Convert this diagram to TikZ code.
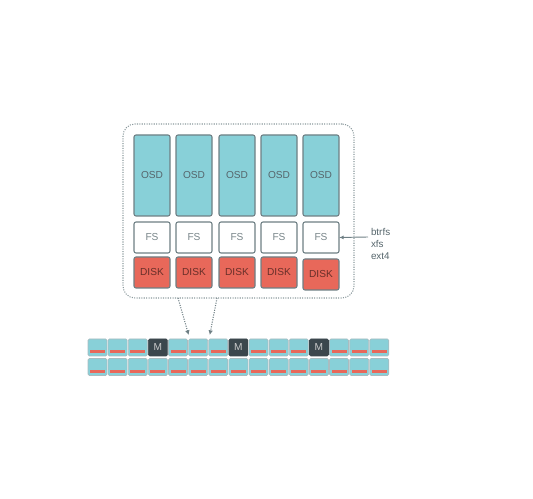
\documentclass[tikz,border=0pt]{standalone}
\usepackage{fontspec}
\setmainfont{Liberation Sans}
\usetikzlibrary{arrows.meta}
\definecolor{osdc}{HTML}{88D0D8}
\definecolor{bordc}{HTML}{6E7F84}
\definecolor{diskc}{HTML}{E8685A}
\definecolor{txtc}{HTML}{56666C}
\definecolor{mc}{HTML}{3B474D}
\definecolor{cellb}{HTML}{A9BCC0}
\begin{document}
\begin{tikzpicture}[x=0.75pt,y=-0.75pt,
  every node/.style={inner sep=0pt,outer sep=0pt,font=\fontsize{7.6}{9}\selectfont,text=txtc},
  box/.style={draw=bordc,line width=0.8pt,rounded corners=1.5pt,anchor=north west,minimum width=27pt},
  osdbox/.style={box,fill=osdc,minimum height=60.75pt},
  fsbox/.style={box,fill=white,minimum height=23.25pt,text=txtc!80},
  diskbox/.style={box,fill=diskc,minimum height=23.25pt,text=diskc!45!black},
  cell/.style={draw=cellb,line width=0.5pt,fill=osdc,rounded corners=1pt,anchor=north west,minimum width=14.25pt,minimum height=12.75pt},
  mcell/.style={cell,draw=mc,fill=mc,text=white!80!black},
  grpbox/.style={draw=bordc!80,densely dotted,line width=0.8pt,rounded corners=9pt,anchor=north west,minimum width=173.25pt,minimum height=130.5pt},
  dotarrow/.style={draw=bordc,densely dotted,line width=0.8pt,-{Latex[length=3.5pt,width=3.5pt]}},
  fsarrow/.style={draw=bordc,line width=0.7pt,-{Latex[length=3.5pt,width=3pt]}}
]
\useasboundingbox (0,0) rectangle (533,499);
\node[grpbox] (grp) at (123,124) {};
\foreach \i/\x/\dy in {1/134/0,2/176/0,3/219/0,4/261/0,5/303/2}{
  \node[osdbox] (osd\i) at (\x,135) {OSD};
  \node[fsbox] (fs\i) at (\x,222) {FS};
  \node[diskbox] (disk\i) at (\x,257+\dy) {DISK};
}
\node[anchor=north west,align=left,font=\fontsize{7.4}{9}\selectfont] (fstxt) at (371,228) {btrfs\\xfs\\ext4};
\coordinate (fsfrom) at (368,237);
\draw[fsarrow] (fsfrom) -- (fs5.east);
% strip
\foreach \r/\y in {1/339,2/358.5}{
  \foreach \c in {1,...,15}{
    \pgfmathsetmacro{\xx}{88+(\c-1)*20.13}
    \ifnum\r=1
      \ifnum\c=4 \def\ism{1}\else\ifnum\c=8 \def\ism{1}\else\ifnum\c=12 \def\ism{1}\else\def\ism{0}\fi\fi\fi
    \else \def\ism{0}\fi
    \ifnum\ism=1
      \node[mcell] (c\r-\c) at (\xx,\y) {M};
    \else
      \node[cell] (c\r-\c) at (\xx,\y) {};
      \fill[diskc] (\xx+2,\y+11.5) rectangle (\xx+17,\y+14.5);
    \fi
  }
}
\coordinate (a1) at (178,298);
\coordinate (a2) at (217,298);
\draw[dotarrow] (a1) -- ([yshift=3pt]c1-6.north west);
\draw[dotarrow] (a2) -- ([xshift=0.75pt,yshift=3pt]c1-7.north west);
\end{tikzpicture}
\end{document}
